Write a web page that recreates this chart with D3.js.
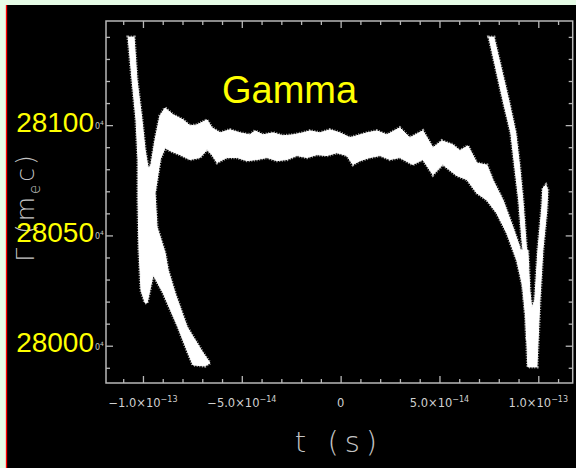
<!DOCTYPE html>
<html>
<head>
<meta charset="utf-8">
<script src="https://cdn.jsdelivr.net/npm/d3@7"></script>
<style>
html,body{margin:0;padding:0;background:#e6fce6;}
svg{display:block;}
</style>
</head>
<body>
<svg id="chart" width="576" height="468"></svg>
<script>
// ---------- data (t in units of 1e-14 s, gamma in units of m_e c) ----------
const T_UNIT = 1e-14;

// main plateau band: upper edge left->right, then lower edge right->left
const mainBand = [
  [-9.64,28079.6],[-9.39,28093.3],
  [-9.14,28104.2],[-8.88,28107.8],[-8.48,28104.7],[-7.97,28102.4],[-7.62,28099.7],
  [-7.27,28100.1],[-6.76,28102.4],[-6.51,28098.8],[-6.10,28096.5],[-5.60,28097.9],
  [-5.09,28096.5],[-4.59,28095.6],[-4.33,28097.4],[-3.93,28095.6],[-3.42,28096.5],
  [-2.92,28095.2],[-2.41,28095.6],[-1.91,28096.5],[-1.55,28097.4],[-1.05,28096.5],
  [-0.54,28097.9],[-0.04,28096.5],[0.47,28094.3],[0.82,28095.2],[1.33,28096.5],
  [1.84,28097.4],[2.34,28095.6],[2.99,28098.8],[3.50,28094.3],[4.16,28097.4],
  [4.67,28089.7],[5.12,28092.9],[5.68,28091.1],[6.03,28088.4],[6.44,28090.6],
  [6.89,28082.8],[7.40,28081.9],[7.70,28075.1],
  [8.21,28066.0],[8.71,28053.8],[9.06,28044.7],[9.22,28035.7],[9.37,28020.7],
  [9.47,28002.6],
  [9.42,28002.6],[9.37,28013.0],[9.22,28026.6],[8.91,28038.8],[8.41,28051.0],
  [7.90,28060.1],[7.40,28066.0],[6.89,28069.2],
  [6.39,28075.3],[5.88,28077.1],[5.17,28082.1],[4.67,28077.5],[4.16,28084.4],
  [3.65,28082.1],[2.99,28085.3],[2.49,28084.4],[1.99,28086.2],[1.48,28085.3],
  [0.98,28083.9],[0.62,28082.1],[0.32,28086.2],[-0.19,28087.5],[-0.69,28086.2],
  [-1.20,28086.6],[-1.70,28085.3],[-2.21,28086.2],[-2.71,28084.4],[-3.22,28083.9],
  [-3.73,28085.3],[-4.23,28084.4],[-4.74,28083.9],[-5.24,28085.3],[-5.75,28085.3],
  [-6.25,28083.0],[-6.51,28086.6],[-6.76,28088.9],[-7.11,28085.3],[-7.62,28084.4],
  [-8.13,28086.6],[-8.63,28088.4],[-8.88,28089.8],
  [-9.14,28084.2],[-9.39,28070.6]
];

// left steep branch and the lower-left falling arm
const leftBranch = [
  [-10.75,28139.9],[-10.45,28139.9],[-10.30,28120.4],[-10.05,28102.3],[-9.89,28088.7],
  [-9.74,28080.6],[-9.14,28084.2],[-9.39,28069.2],[-9.29,28053.8],[-8.88,28042.0],
  [-8.73,28034.3],[-8.38,28023.9],[-7.77,28008.5],[-6.96,27996.7],[-6.61,27992.2],
  [-6.86,27990.8],[-7.47,27991.3],[-7.72,27996.7],[-8.23,28008.5],[-8.98,28023.9],
  [-9.39,28030.7],[-9.49,28032.0],[-9.79,28019.4],[-9.89,28019.4],[-10.10,28025.2],
  [-10.20,28043.4],[-10.25,28066.0],[-10.25,28084.2],[-10.35,28102.3],[-10.55,28120.4]
];

// right steep branch (falling from top)
const rightBranch = [
  [7.50,28139.9],[8.21,28111.4],[8.61,28096.4],[8.81,28081.0],[9.01,28066.0],
  [9.17,28047.9],[9.32,28035.7],
  [9.47,28035.7],[9.37,28047.9],[9.22,28066.0],[9.06,28081.0],[8.86,28096.4],
  [8.50,28111.4],[7.75,28139.9]
];

// right V minimum and rising arm
const rightArm = [
  [9.11,28043.4],[9.47,28043.4],[9.57,28025.2],[9.67,28017.1],[9.82,28020.7],
  [9.98,28043.4],[10.18,28062.9],[10.23,28071.4],[10.38,28072.8],[10.48,28070.6],
  [10.43,28061.5],[10.23,28043.4],[10.08,28020.7],[9.93,27990.4],[9.47,27990.4],
  [9.37,28013.0],[9.22,28026.6]
];

const xMajorTicks = [-10, -5, 0, 5, 10];            // units of 1e-14 s
const xTickBase   = ["\u22121.0\u00d710", "\u22125.0\u00d710", "0", "5.0\u00d710", "1.0\u00d710"];
const xTickExp    = ["\u221213", "\u221214", "", "\u221214", "\u221213"];
const yMajorTicks = [28000, 28050, 28100];
const yTickLabels = ["28000", "28050", "28100"];
const chartTitle  = "Gamma";

// ---------- drawing ----------
const svg = d3.select("#chart");
const W = 576, H = 468;
const L = 106, R = 572.7, T = 21, B = 383;

svg.append("rect").attr("x",0).attr("y",0).attr("width",W).attr("height",H).attr("fill","#e6fce6");
svg.append("rect").attr("x",7).attr("y",5).attr("width",W-7).attr("height",H-5).attr("fill","#000");
svg.append("line").attr("x1",6.5).attr("x2",6.5).attr("y1",5).attr("y2",H)
  .attr("stroke","#ff0000").attr("stroke-width",1.3);

const x = d3.scaleLinear().domain([-11.87*T_UNIT, 11.74*T_UNIT]).range([L, R]);
const y = d3.scaleLinear().domain([27983.1, 28147.2]).range([B, T]);

const poly = d3.line().x(d => x(d[0]*T_UNIT)).y(d => y(d[1])).curve(d3.curveLinearClosed);
const shapes = [mainBand, leftBranch, rightBranch, rightArm];

const plot = svg.append("g");
// fuzzy speckled rim
plot.selectAll("path.rim").data(shapes).join("path").attr("class","rim")
  .attr("d", poly).attr("fill","none").attr("stroke","#a8a8a8")
  .attr("stroke-width",3.4).attr("stroke-dasharray","1 1.6");
plot.selectAll("path.fill").data(shapes).join("path").attr("class","fill")
  .attr("d", poly).attr("fill","#ffffff").attr("stroke","#ffffff").attr("stroke-width",1);

// axes frame and ticks
const axisColor = "#b8b8b8";
const xMinor = d3.range(-11, 12).filter(v => v % 5 !== 0).map(v => v*T_UNIT);
const xMajor = xMajorTicks.map(v => v*T_UNIT);
const yMinor = d3.range(27990, 28150, 10).filter(v => v % 50 !== 0);

function styleAxis(g){
  g.select(".domain").remove();
  g.selectAll("line").attr("stroke", axisColor).attr("stroke-width", 1.3);
  g.selectAll("text").remove();
}
svg.append("g").attr("transform",`translate(0,${B})`).call(d3.axisBottom(x).tickValues(xMajor).tickSize(-7).tickFormat("")).call(styleAxis);
svg.append("g").attr("transform",`translate(0,${B})`).call(d3.axisBottom(x).tickValues(xMinor).tickSize(-4).tickFormat("")).call(styleAxis);
svg.append("g").attr("transform",`translate(0,${T})`).call(d3.axisTop(x).tickValues(xMajor).tickSize(-7).tickFormat("")).call(styleAxis);
svg.append("g").attr("transform",`translate(0,${T})`).call(d3.axisTop(x).tickValues(xMinor).tickSize(-4).tickFormat("")).call(styleAxis);
svg.append("g").attr("transform",`translate(${L},0)`).call(d3.axisLeft(y).tickValues(yMajorTicks).tickSize(-7).tickFormat("")).call(styleAxis);
svg.append("g").attr("transform",`translate(${L},0)`).call(d3.axisLeft(y).tickValues(yMinor).tickSize(-4).tickFormat("")).call(styleAxis);
svg.append("g").attr("transform",`translate(${R},0)`).call(d3.axisRight(y).tickValues(yMajorTicks).tickSize(-7).tickFormat("")).call(styleAxis);
svg.append("g").attr("transform",`translate(${R},0)`).call(d3.axisRight(y).tickValues(yMinor).tickSize(-4).tickFormat("")).call(styleAxis);
svg.append("rect").attr("x",L).attr("y",T).attr("width",R-L).attr("height",B-T)
  .attr("fill","none").attr("stroke",axisColor).attr("stroke-width",1.5);

// x tick labels
const xl = svg.append("g").attr("font-family","'DejaVu Sans', sans-serif").attr("fill","#d0d0d0");
xMajorTicks.forEach((v,i) => {
  const t = xl.append("text").attr("x", x(v*T_UNIT)).attr("y", 407)
    .attr("text-anchor","middle").attr("font-size",11.5);
  t.append("tspan").text(xTickBase[i]);
  if (xTickExp[i]) t.append("tspan").attr("dy",-5).attr("font-size",8).text(xTickExp[i]);
});

// x axis title
svg.append("text").attr("x", 339).attr("y", 452).attr("text-anchor","middle")
  .attr("font-family","'DejaVu Sans', sans-serif").attr("font-size",29).attr("font-weight",200)
  .attr("letter-spacing",6).attr("fill","#c4c4c4").text("t (s)");

// y axis title (rotated, mostly hidden behind labels)
const yt = svg.append("text").attr("transform","translate(34,207) rotate(-90)")
  .attr("text-anchor","middle").attr("font-family","'DejaVu Sans', sans-serif")
  .attr("font-size",25).attr("font-weight",200).attr("letter-spacing",3).attr("fill","#c4c4c4");
yt.append("tspan").text("\u0393 (m");
yt.append("tspan").attr("dy",6).attr("font-size",15).text("e");
yt.append("tspan").attr("dy",-6).text("c)");

// remnants of exponent next to y labels
const yr = svg.append("g").attr("font-family","'DejaVu Sans', sans-serif").attr("fill","#c4c4c4");
yMajorTicks.forEach(v => {
  const t = yr.append("text").attr("x", 95).attr("y", y(v)+4).attr("font-size",8);
  t.append("tspan").text("0");
  t.append("tspan").attr("dy",-4).attr("font-size",6).text("4");
});

// y tick labels (yellow)
svg.append("g").selectAll("text").data(yMajorTicks).join("text")
  .attr("x", 94).attr("y", d => y(d)+6.5).attr("text-anchor","end")
  .attr("font-family","'Liberation Sans', Arial, sans-serif").attr("font-size",28)
  .attr("fill","#ffff00").text((d,i) => yTickLabels[i]);

// title
svg.append("text").attr("x",222).attr("y",103)
  .attr("font-family","'Liberation Sans', Arial, sans-serif").attr("font-size",38)
  .attr("fill","#ffff00").text(chartTitle);
</script>
</body>
</html>
